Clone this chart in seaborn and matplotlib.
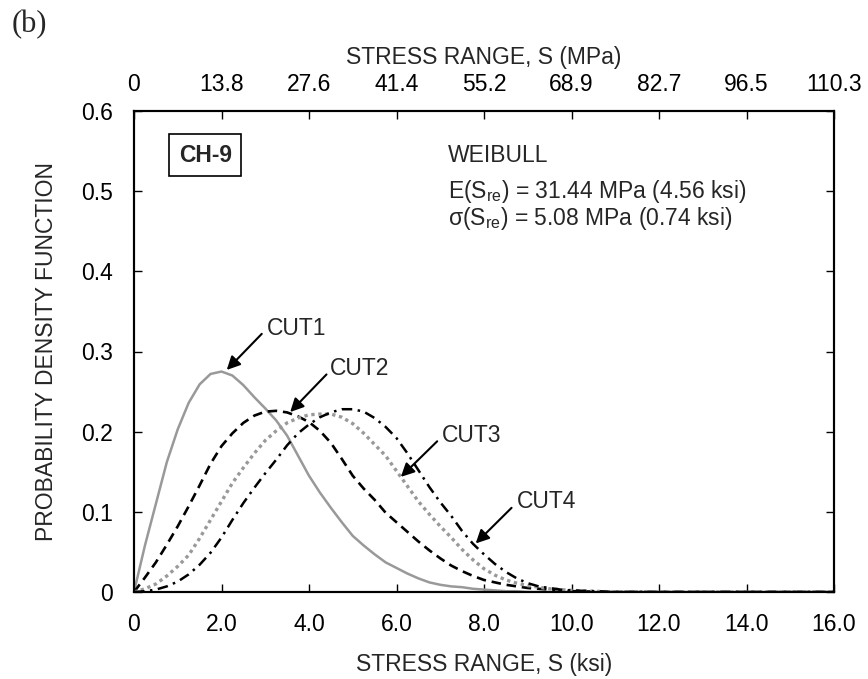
import matplotlib
matplotlib.use('Agg')
import matplotlib.pyplot as plt
import seaborn as sns
import pandas as pd

# stress range (ksi) sample points
ksi = [0.0, 0.25, 0.5, 0.75, 1.0, 1.25, 1.5, 1.75, 2.0, 2.25, 2.5, 2.75, 3.0, 3.25,
       3.5, 3.75, 4.0, 4.25, 4.5, 4.75, 5.0, 5.25, 5.5, 5.75, 6.0, 6.25, 6.5, 6.75,
       7.0, 7.25, 7.5, 7.75, 8.0, 8.25, 8.5, 8.75, 9.0, 9.25, 9.5, 9.75, 10.0,
       11.0, 12.0, 13.0, 14.0, 15.0, 16.0]

cut1 = [0.0, 0.058, 0.110, 0.162, 0.203, 0.236, 0.259, 0.272, 0.275, 0.270, 0.258,
        0.243, 0.229, 0.214, 0.195, 0.170, 0.145, 0.124, 0.105, 0.087, 0.070, 0.058,
        0.047, 0.037, 0.030, 0.023, 0.017, 0.012, 0.009, 0.007, 0.006, 0.004, 0.003,
        0.002, 0.001, 0.001, 0.0, 0.0, 0.0, 0.0, 0.0,
        0.0, 0.0, 0.0, 0.0, 0.0, 0.0]
cut2 = [0.0, 0.018, 0.037, 0.059, 0.082, 0.107, 0.133, 0.160, 0.182, 0.198, 0.211,
        0.220, 0.225, 0.226, 0.224, 0.219, 0.212, 0.201, 0.186, 0.166, 0.145, 0.129,
        0.115, 0.099, 0.087, 0.075, 0.063, 0.052, 0.042, 0.033, 0.026, 0.020, 0.015,
        0.012, 0.009, 0.007, 0.005, 0.004, 0.003, 0.002, 0.001,
        0.0, 0.0, 0.0, 0.0, 0.0, 0.0]
cut3 = [0.0, 0.004, 0.010, 0.020, 0.032, 0.046, 0.067, 0.090, 0.113, 0.136, 0.155,
        0.173, 0.189, 0.201, 0.211, 0.217, 0.221, 0.222, 0.222, 0.218, 0.210, 0.198,
        0.184, 0.170, 0.151, 0.132, 0.113, 0.097, 0.082, 0.068, 0.053, 0.040, 0.029,
        0.021, 0.015, 0.011, 0.008, 0.006, 0.004, 0.003, 0.002,
        0.0, 0.0, 0.0, 0.0, 0.0, 0.0]
cut4 = [0.0, 0.001, 0.003, 0.007, 0.013, 0.022, 0.034, 0.049, 0.068, 0.090, 0.111,
        0.130, 0.148, 0.165, 0.183, 0.198, 0.209, 0.218, 0.224, 0.228, 0.228, 0.225,
        0.217, 0.206, 0.192, 0.173, 0.152, 0.131, 0.112, 0.095, 0.076, 0.060, 0.047,
        0.035, 0.025, 0.017, 0.011, 0.007, 0.005, 0.003, 0.002,
        0.0, 0.0, 0.0, 0.0, 0.0, 0.0]

xticks_ksi = [0, 2, 4, 6, 8, 10, 12, 14, 16]
xlabels_ksi = ['0', '2.0', '4.0', '6.0', '8.0', '10.0', '12.0', '14.0', '16.0']
xlabels_mpa = ['0', '13.8', '27.6', '41.4', '55.2', '68.9', '82.7', '96.5', '110.3']
yticks = [0, 0.1, 0.2, 0.3, 0.4, 0.5, 0.6]
ylabels = ['0', '0.1', '0.2', '0.3', '0.4', '0.5', '0.6']

sns.set_style('ticks')
plt.rcParams['font.family'] = ['Liberation Sans', 'DejaVu Sans']
plt.rcParams['mathtext.fontset'] = 'custom'
plt.rcParams['mathtext.rm'] = 'Liberation Sans'
plt.rcParams['mathtext.it'] = 'Liberation Sans:italic'

FS = 16.5
fig = plt.figure(figsize=(8.68, 6.79), dpi=100)
ax = fig.add_axes([134 / 868, 1 - 592 / 679, 700 / 868, 481 / 679])

styles = [
    (cut1, '#999999', 1.8, None),
    (cut2, 'black', 1.9, (3.6, 2.2)),
    (cut3, '#999999', 2.4, (1.0, 1.1)),
    (cut4, 'black', 1.8, (4.2, 2.2, 1.0, 2.2)),
]
for vals, col, lw, dash in styles:
    df = pd.DataFrame({'ksi': ksi, 'pdf': vals})
    sns.lineplot(data=df, x='ksi', y='pdf', ax=ax, color=col, linewidth=lw)
    line = ax.lines[-1]
    if dash is not None:
        line.set_dashes(dash)
        line.set_dash_capstyle('butt')

ax.set_xlim(0, 16)
ax.set_ylim(0, 0.6)
ax.set_xticks(xticks_ksi)
ax.set_xticklabels(xlabels_ksi)
ax.set_yticks(yticks)
ax.set_yticklabels(ylabels)
ax.tick_params(direction='in', length=6, width=1, labelsize=FS, pad=15,
               right=True, top=False, colors='black')
ax.set_xlabel('STRESS RANGE, S (ksi)', fontsize=FS, labelpad=12)
ax.set_ylabel('PROBABILITY DENSITY FUNCTION', fontsize=FS, labelpad=17)
for sp in ax.spines.values():
    sp.set_linewidth(1.5)
    sp.set_color('black')

ax2 = ax.twiny()
ax2.set_xlim(0, 16)
ax2.set_xticks(xticks_ksi)
ax2.set_xticklabels(xlabels_mpa)
ax2.tick_params(direction='in', length=6, width=1, labelsize=FS, pad=11, colors='black')
ax2.set_xlabel('STRESS RANGE, S (MPa)', fontsize=FS, labelpad=6)
for sp in ax2.spines.values():
    sp.set_linewidth(1.5)
    sp.set_color('black')

ax.text(1.63, 0.545, 'CH-9', fontsize=FS, fontweight='bold', ha='center', va='center',
        bbox=dict(boxstyle='square,pad=0.42', fc='white', ec='black', lw=1.2))
ax.text(7.18, 0.545, 'WEIBULL', fontsize=FS, va='center')
ax.text(7.18, 0.500, r'E(S$_{\mathrm{re}}$) = 31.44 MPa (4.56 ksi)', fontsize=FS, va='center')
ax.text(7.18, 0.4656, r'σ(S$_{\mathrm{re}}$) = 5.08 MPa (0.74 ksi)', fontsize=FS, va='center')

arrows = [
    ('CUT1', (3.04, 0.3286), (2.92, 0.322), (2.12, 0.277)),
    ('CUT2', (4.48, 0.279), (4.40, 0.2714), (3.57, 0.2245)),
    ('CUT3', (7.03, 0.1954), (6.93, 0.188), (6.10, 0.1436)),
    ('CUT4', (8.75, 0.1124), (8.63, 0.105), (7.81, 0.0606)),
]
for label, tpos, tail, tip in arrows:
    ax.annotate('', xy=tip, xytext=tail,
                arrowprops=dict(arrowstyle='-|>', color='black', lw=1.5,
                                mutation_scale=20, shrinkA=0, shrinkB=0))
    ax.text(tpos[0], tpos[1], label, fontsize=FS, va='center', ha='left')

fig.text(12 / 868, 1 - 25 / 679, '(b)', fontsize=22, va='center', ha='left',
         family=['Liberation Serif', 'DejaVu Serif'])

fig.savefig('out.png', dpi=100)
